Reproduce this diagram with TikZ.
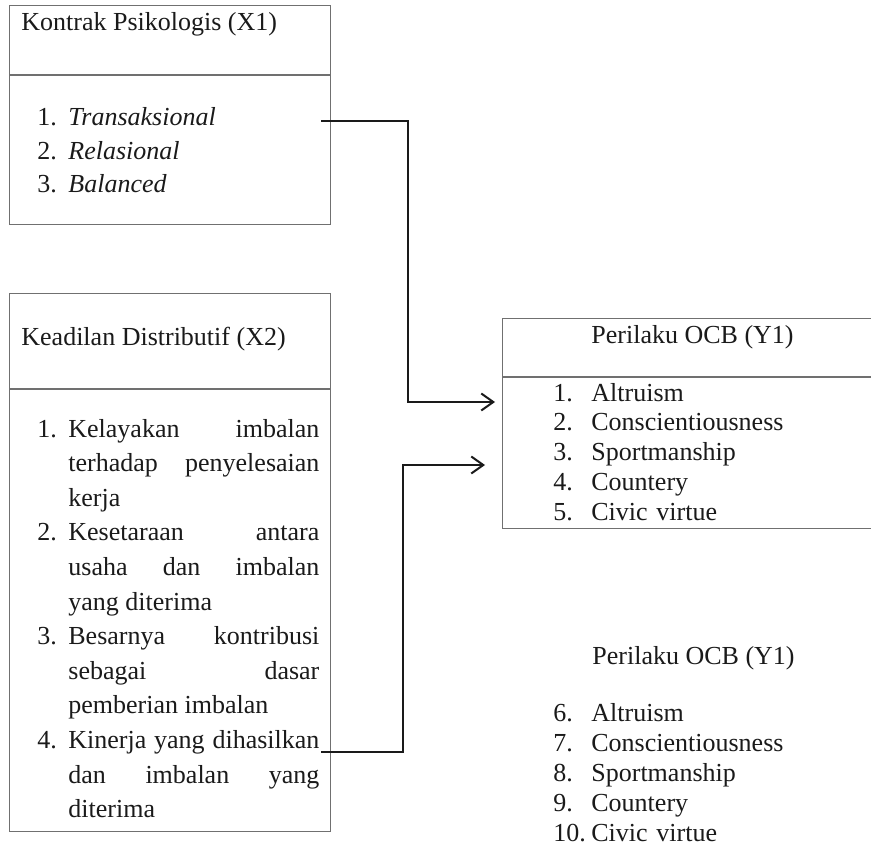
\documentclass[tikz,border=0pt]{standalone}
\usepackage{fontspec}
\setmainfont{Liberation Serif}
\usetikzlibrary{arrows.meta,positioning}
\definecolor{Ink}{HTML}{1A1A1A}
\definecolor{Frame}{HTML}{707070}

% number column of a list entry
\newcommand{\nr}[2]{\makebox[#1][l]{#2}}
% justified entry with a hanging number
\newcommand{\jitem}[2]{\noindent\hangindent=15.5pt\makebox[15.5pt][l]{#1}#2\par}

\begin{document}
\begin{tikzpicture}[x=0.5pt,y=-0.5pt,>={Straight Barb[length=6pt,width=8.5pt]},
  cell/.style={draw=Frame,line width=0.6pt,inner sep=0pt,anchor=north west},
  head/.style={Ink,inner sep=0pt,anchor=base west,font=\fontsize{13}{16}\selectfont},
  list/.style={Ink,inner sep=0pt,anchor=base west,align=left},
  link/.style={Ink,line width=1pt,->}]
  \useasboundingbox (0,0) rectangle (871,845);

  % Kontrak Psikologis
  \node[cell,minimum width=160.5pt,minimum height=34.5pt] (x1head) at (9,5) {};
  \node[cell,minimum width=160.5pt,minimum height=74.5pt] (x1body) at (x1head.south west) {};
  \node[head] (x1title) at (21,31) {Kontrak Psikologis (X1)};
  \node[list,text width=150pt,font=\fontsize{13}{16.75}\selectfont] (x1items) at (37,126)
    {\nr{15.5pt}{1.}\textit{Transaksional}\par
     \nr{15.5pt}{2.}\textit{Relasional}\par
     \nr{15.5pt}{3.}\textit{Balanced}};

  % Keadilan Distributif
  \node[cell,minimum width=160.5pt,minimum height=47.5pt] (x2head) at (9,293) {};
  \node[cell,minimum width=160.5pt,minimum height=221pt] (x2body) at (x2head.south west) {};
  \node[head] (x2title) at (21,345) {Keadilan Distributif (X2)};
  \node[list,align=justify,text width=141pt,font=\fontsize{13}{17.3}\selectfont] (x2items) at (37,437)
    {\jitem{1.}{Kelayakan imbalan\linebreak terhadap penyelesaian\linebreak kerja}%
     \jitem{2.}{Kesetaraan antara\linebreak usaha dan imbalan\linebreak yang diterima}%
     \jitem{3.}{Besarnya kontribusi\linebreak sebagai dasar\linebreak pemberian imbalan}%
     \jitem{4.}{Kinerja yang dihasilkan\linebreak dan imbalan yang\linebreak diterima}};

  % Perilaku OCB
  \node[cell,minimum width=186pt,minimum height=29pt] (y1head) at (502,318) {};
  \node[cell,minimum width=186pt,minimum height=75.5pt] (y1body) at (y1head.south west) {};
  \node[head] (y1title) at (591,343) {Perilaku OCB (Y1)};
  \node[list,text width=150pt,font=\fontsize{13}{14.9}\selectfont] (y1items) at (553,401)
    {\nr{19pt}{1.}Altruism\par
     \nr{19pt}{2.}Conscientiousness\par
     \nr{19pt}{3.}Sportmanship\par
     \nr{19pt}{4.}Countery\par
     \nr{19pt}{5.}Civic virtue};

  % second list, no frame
  \node[head] (y2title) at (592,664) {Perilaku OCB (Y1)};
  \node[list,text width=150pt,font=\fontsize{13}{15}\selectfont] (y2items) at (553,721)
    {\nr{19pt}{6.}Altruism\par
     \nr{19pt}{7.}Conscientiousness\par
     \nr{19pt}{8.}Sportmanship\par
     \nr{19pt}{9.}Countery\par
     \nr{19pt}{10.}Civic virtue};

  % connectors
  \coordinate (x1out) at (321,121);
  \coordinate (x2out) at (321,752);
  \coordinate (y1in1) at (495,402);
  \coordinate (y1in2) at (485,465);
  \draw[link] (x1out) -- ++(87,0) |- (y1in1);
  \draw[link] (x2out) -- ++(82,0) |- (y1in2);
\end{tikzpicture}
\end{document}
